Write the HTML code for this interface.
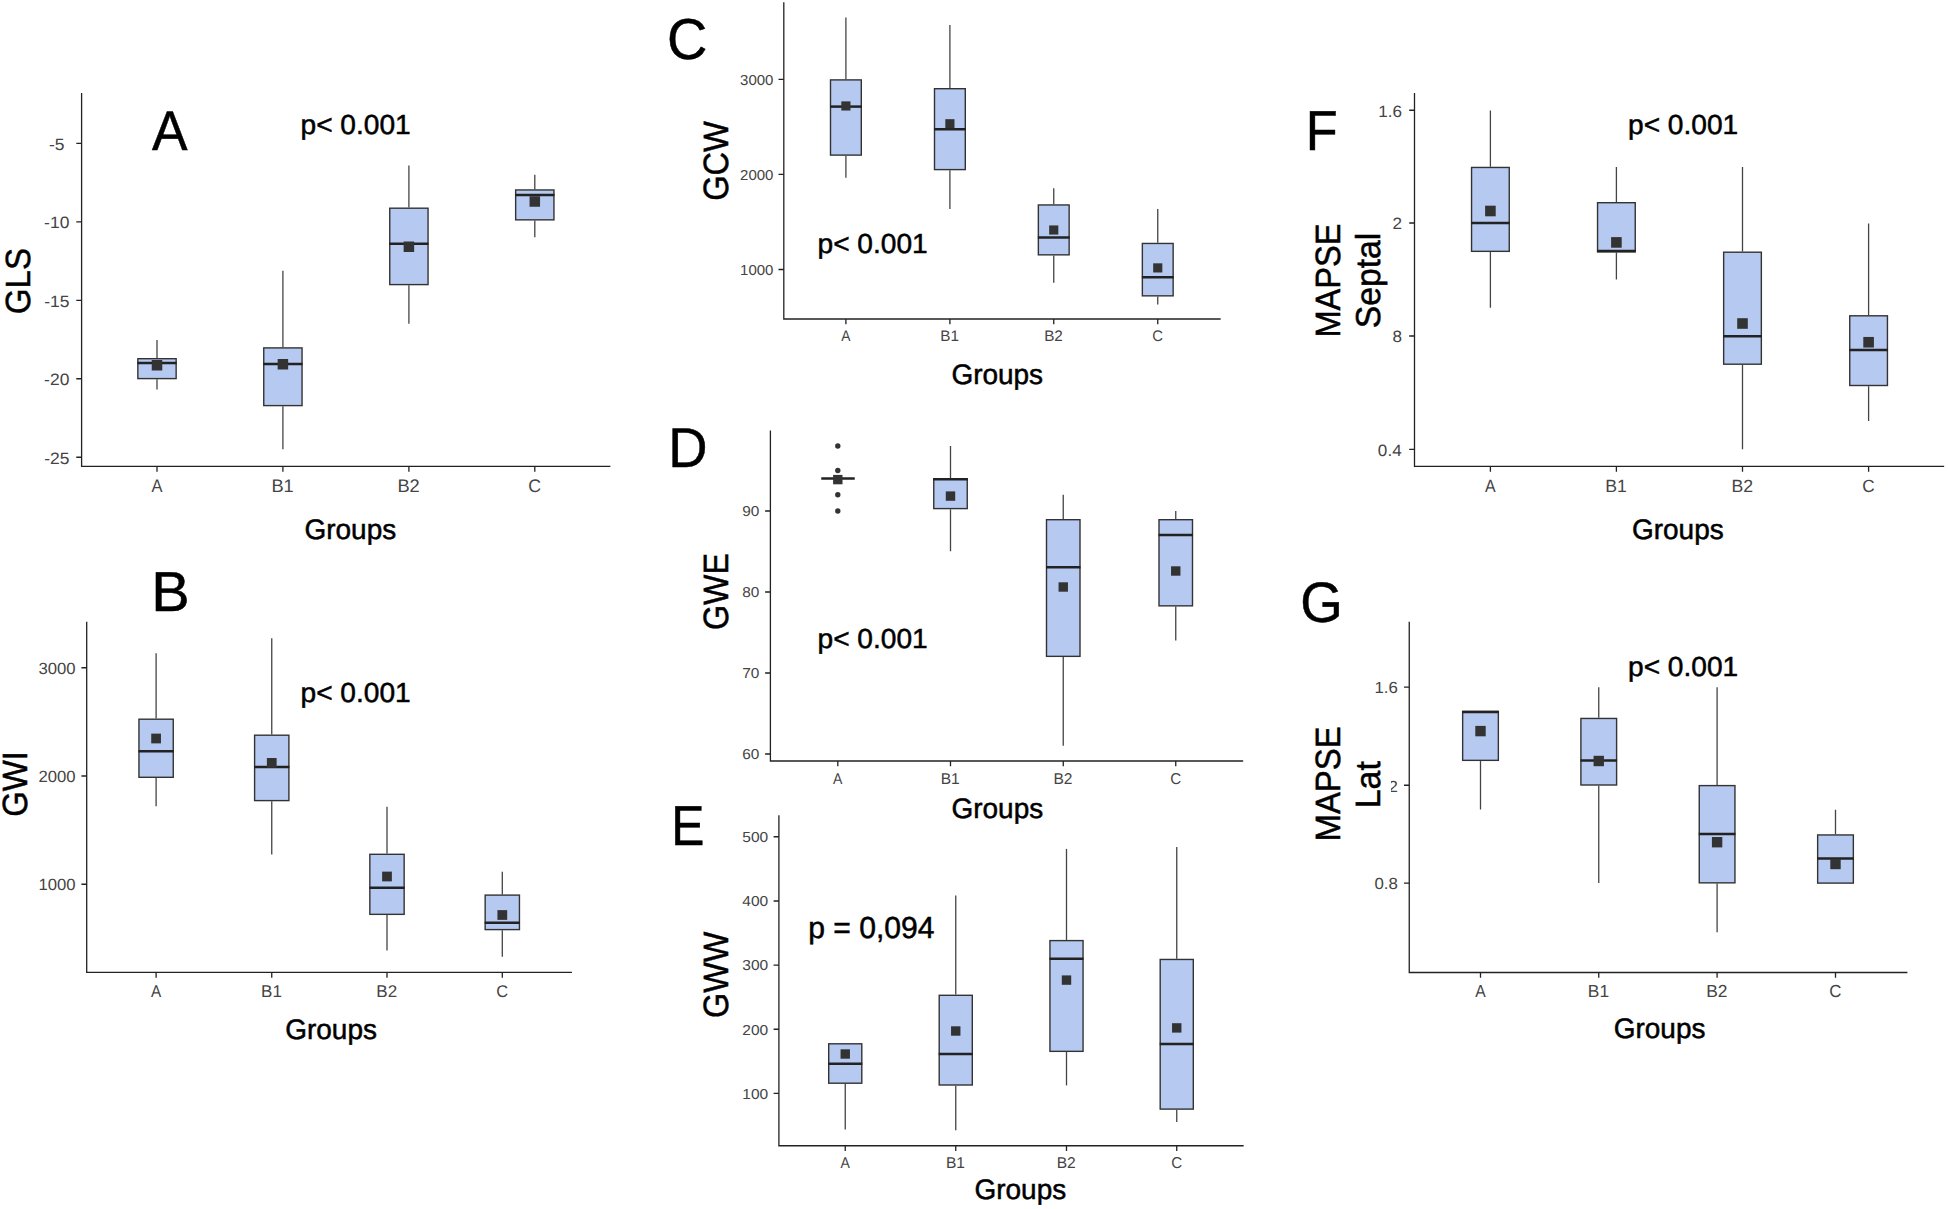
<!DOCTYPE html>
<html lang="en"><head><meta charset="utf-8"><title>Box plots of myocardial work indices by group</title>
<style>
html,body{margin:0;padding:0;background:#fff}
body{width:1948px;height:1209px;overflow:hidden}
svg{display:block}
text{font-family:"Liberation Sans",Arial,Helvetica,sans-serif;text-rendering:geometricPrecision}
</style></head><body>
<svg width="1948" height="1209" viewBox="0 0 1948 1209">
<rect width="1948" height="1209" fill="#fff"/>
<g id="panelA">
<path d="M81.6 93.75V466.45H609.75" fill="none" stroke="#222222" stroke-width="1.3" stroke-linecap="square"/>
<path d="M76.3 143.3H81.6M76.3 221.8H81.6M76.3 300.3H81.6M76.3 378.75H81.6M76.3 457.25H81.6M157 466.45V471.75M282.9 466.45V471.75M408.9 466.45V471.75M534.8 466.45V471.75" fill="none" stroke="#222222" stroke-width="1.3"/>
<text transform="translate(49.01,149.51) scale(1.0650,1)" font-size="16.4" fill="#444444" stroke="#444444" stroke-width="0">-5</text>
<text transform="translate(44.12,228.09) scale(1.0650,1)" font-size="16.4" fill="#444444" stroke="#444444" stroke-width="0">-10</text>
<text transform="translate(44.14,306.51) scale(1.0650,1)" font-size="16.4" fill="#444444" stroke="#444444" stroke-width="0">-15</text>
<text transform="translate(44.12,385.04) scale(1.0650,1)" font-size="16.4" fill="#444444" stroke="#444444" stroke-width="0">-20</text>
<text transform="translate(44.14,463.54) scale(1.0650,1)" font-size="16.4" fill="#444444" stroke="#444444" stroke-width="0">-25</text>
<text transform="translate(151.5,492.4) scale(0.9000,1)" font-size="18.3" fill="#444444" stroke="#444444" stroke-width="0">A</text>
<text transform="translate(271.39,492.4)" font-size="18.3" fill="#444444" stroke="#444444" stroke-width="0">B1</text>
<text transform="translate(397.42,492.4)" font-size="18.3" fill="#444444" stroke="#444444" stroke-width="0">B2</text>
<text transform="translate(528.3,492.4) scale(0.9700,1)" font-size="18.3" fill="#444444" stroke="#444444" stroke-width="0">C</text>
<line x1="157" y1="340" x2="157" y2="358" stroke="#444444" stroke-width="1.3"/>
<line x1="157" y1="379.3" x2="157" y2="389.5" stroke="#444444" stroke-width="1.3"/>
<rect x="137.85" y="358.7" width="38.3" height="19.9" fill="#b6c9f0" stroke="#333333" stroke-width="1.4"/>
<line x1="137.35" y1="363" x2="176.65" y2="363" stroke="#222222" stroke-width="2.5"/>
<rect x="151.75" y="360" width="10.5" height="10.5" fill="#333333"/>
<line x1="282.9" y1="270.75" x2="282.9" y2="347.2" stroke="#444444" stroke-width="1.3"/>
<line x1="282.9" y1="406.3" x2="282.9" y2="449.25" stroke="#444444" stroke-width="1.3"/>
<rect x="263.75" y="347.9" width="38.3" height="57.7" fill="#b6c9f0" stroke="#333333" stroke-width="1.4"/>
<line x1="263.25" y1="364" x2="302.55" y2="364" stroke="#222222" stroke-width="2.5"/>
<rect x="277.65" y="359" width="10.5" height="10.5" fill="#333333"/>
<line x1="408.9" y1="165.5" x2="408.9" y2="207.5" stroke="#444444" stroke-width="1.3"/>
<line x1="408.9" y1="285.3" x2="408.9" y2="323.75" stroke="#444444" stroke-width="1.3"/>
<rect x="389.75" y="208.2" width="38.3" height="76.4" fill="#b6c9f0" stroke="#333333" stroke-width="1.4"/>
<line x1="389.25" y1="243.75" x2="428.55" y2="243.75" stroke="#222222" stroke-width="2.5"/>
<rect x="403.65" y="241.5" width="10.5" height="10.5" fill="#333333"/>
<line x1="534.8" y1="174.75" x2="534.8" y2="189.25" stroke="#444444" stroke-width="1.3"/>
<line x1="534.8" y1="220.55" x2="534.8" y2="237.25" stroke="#444444" stroke-width="1.3"/>
<rect x="515.65" y="189.95" width="38.3" height="29.9" fill="#b6c9f0" stroke="#333333" stroke-width="1.4"/>
<line x1="515.15" y1="195" x2="554.45" y2="195" stroke="#222222" stroke-width="2.5"/>
<rect x="529.55" y="196.25" width="10.5" height="10.5" fill="#333333"/>
<text transform="translate(152.02,150.15) scale(0.9515,1)" font-size="56" fill="#000" stroke="#000" stroke-width="0.5">A</text>
<text transform="translate(300.52,133.5) scale(1.0220,1)" font-size="27.5" fill="#000" stroke="#000" stroke-width="0.5">p&lt; 0.001</text>
<text transform="translate(304.5,539) scale(0.9920,1)" font-size="28.2" fill="#000" stroke="#000" stroke-width="0.5">Groups</text>
<text transform="translate(30.15,314.26) rotate(-90) scale(0.9506,1)" font-size="34.96" fill="#000" stroke="#000" stroke-width="0.5">GLS</text>
</g>
<g id="panelB">
<path d="M86.7 622.5V972.4H571.25" fill="none" stroke="#222222" stroke-width="1.3" stroke-linecap="square"/>
<path d="M81.4 667.75H86.7M81.4 776H86.7M81.4 884.25H86.7M156.1 972.4V977.7M271.75 972.4V977.7M387 972.4V977.7M502.3 972.4V977.7" fill="none" stroke="#222222" stroke-width="1.3"/>
<text transform="translate(38.54,673.82) scale(1.0300,1)" font-size="16.2" fill="#444444" stroke="#444444" stroke-width="0">3000</text>
<text transform="translate(38.54,782.07) scale(1.0300,1)" font-size="16.2" fill="#444444" stroke="#444444" stroke-width="0">2000</text>
<text transform="translate(38.54,890.32) scale(1.0300,1)" font-size="16.2" fill="#444444" stroke="#444444" stroke-width="0">1000</text>
<text transform="translate(150.99,996.9) scale(0.9000,1)" font-size="17" fill="#444444" stroke="#444444" stroke-width="0">A</text>
<text transform="translate(261.06,996.9)" font-size="17" fill="#444444" stroke="#444444" stroke-width="0">B1</text>
<text transform="translate(376.33,996.9)" font-size="17" fill="#444444" stroke="#444444" stroke-width="0">B2</text>
<text transform="translate(496.26,996.9) scale(0.9700,1)" font-size="17" fill="#444444" stroke="#444444" stroke-width="0">C</text>
<line x1="156.1" y1="653.25" x2="156.1" y2="718.5" stroke="#444444" stroke-width="1.3"/>
<line x1="156.1" y1="778" x2="156.1" y2="806.25" stroke="#444444" stroke-width="1.3"/>
<rect x="138.95" y="719.2" width="34.3" height="58.1" fill="#b6c9f0" stroke="#333333" stroke-width="1.4"/>
<line x1="138.45" y1="751.2" x2="173.75" y2="751.2" stroke="#222222" stroke-width="2.5"/>
<rect x="151.22" y="733.62" width="9.75" height="9.75" fill="#333333"/>
<line x1="271.75" y1="638.25" x2="271.75" y2="734.5" stroke="#444444" stroke-width="1.3"/>
<line x1="271.75" y1="801.3" x2="271.75" y2="854.4" stroke="#444444" stroke-width="1.3"/>
<rect x="254.6" y="735.2" width="34.3" height="65.4" fill="#b6c9f0" stroke="#333333" stroke-width="1.4"/>
<line x1="254.1" y1="767" x2="289.4" y2="767" stroke="#222222" stroke-width="2.5"/>
<rect x="266.88" y="758.02" width="9.75" height="9.75" fill="#333333"/>
<line x1="387" y1="806.75" x2="387" y2="853.6" stroke="#444444" stroke-width="1.3"/>
<line x1="387" y1="915.05" x2="387" y2="950.4" stroke="#444444" stroke-width="1.3"/>
<rect x="369.85" y="854.3" width="34.3" height="60.05" fill="#b6c9f0" stroke="#333333" stroke-width="1.4"/>
<line x1="369.35" y1="887.75" x2="404.65" y2="887.75" stroke="#222222" stroke-width="2.5"/>
<rect x="382.12" y="871.62" width="9.75" height="9.75" fill="#333333"/>
<line x1="502.3" y1="871.75" x2="502.3" y2="894.4" stroke="#444444" stroke-width="1.3"/>
<line x1="502.3" y1="930.3" x2="502.3" y2="956.75" stroke="#444444" stroke-width="1.3"/>
<rect x="485.15" y="895.1" width="34.3" height="34.5" fill="#b6c9f0" stroke="#333333" stroke-width="1.4"/>
<line x1="484.65" y1="922.75" x2="519.95" y2="922.75" stroke="#222222" stroke-width="2.5"/>
<rect x="497.43" y="910.12" width="9.75" height="9.75" fill="#333333"/>
<text transform="translate(151.29,611.25) scale(1.0242,1)" font-size="56.29" fill="#000" stroke="#000" stroke-width="0.5">B</text>
<text transform="translate(300.52,701.5) scale(1.0220,1)" font-size="27.5" fill="#000" stroke="#000" stroke-width="0.5">p&lt; 0.001</text>
<text transform="translate(285.25,1038.75) scale(0.9920,1)" font-size="28.2" fill="#000" stroke="#000" stroke-width="0.5">Groups</text>
<text transform="translate(26.95,816.84) rotate(-90) scale(0.9375,1)" font-size="35.06" fill="#000" stroke="#000" stroke-width="0.5">GWI</text>
</g>
<g id="panelC">
<path d="M783.8 3V319H1220" fill="none" stroke="#222222" stroke-width="1.3" stroke-linecap="square"/>
<path d="M778.5 79.3H783.8M778.5 174.4H783.8M778.5 269.5H783.8M845.9 319V324.3M949.9 319V324.3M1053.75 319V324.3M1157.75 319V324.3" fill="none" stroke="#222222" stroke-width="1.3"/>
<text transform="translate(740.04,84.83) scale(1.0340,1)" font-size="14.5" fill="#444444" stroke="#444444" stroke-width="0">3000</text>
<text transform="translate(740.04,179.93) scale(1.0340,1)" font-size="14.5" fill="#444444" stroke="#444444" stroke-width="0">2000</text>
<text transform="translate(740.04,275.03) scale(1.0340,1)" font-size="14.5" fill="#444444" stroke="#444444" stroke-width="0">1000</text>
<text transform="translate(841.3,340.9) scale(0.9000,1)" font-size="15.3" fill="#444444" stroke="#444444" stroke-width="0">A</text>
<text transform="translate(940.28,340.9)" font-size="15.3" fill="#444444" stroke="#444444" stroke-width="0">B1</text>
<text transform="translate(1044.15,340.9)" font-size="15.3" fill="#444444" stroke="#444444" stroke-width="0">B2</text>
<text transform="translate(1152.31,340.9) scale(0.9700,1)" font-size="15.3" fill="#444444" stroke="#444444" stroke-width="0">C</text>
<line x1="845.9" y1="17.5" x2="845.9" y2="79.2" stroke="#444444" stroke-width="1.3"/>
<line x1="845.9" y1="155.8" x2="845.9" y2="177.75" stroke="#444444" stroke-width="1.3"/>
<rect x="830.5" y="79.9" width="30.8" height="75.2" fill="#b6c9f0" stroke="#333333" stroke-width="1.4"/>
<line x1="830" y1="106.6" x2="861.8" y2="106.6" stroke="#222222" stroke-width="2.5"/>
<rect x="841.32" y="101.38" width="9.15" height="9.15" fill="#333333"/>
<line x1="949.9" y1="25" x2="949.9" y2="88" stroke="#444444" stroke-width="1.3"/>
<line x1="949.9" y1="170.3" x2="949.9" y2="209" stroke="#444444" stroke-width="1.3"/>
<rect x="934.5" y="88.7" width="30.8" height="80.9" fill="#b6c9f0" stroke="#333333" stroke-width="1.4"/>
<line x1="934" y1="129.25" x2="965.8" y2="129.25" stroke="#222222" stroke-width="2.5"/>
<rect x="945.32" y="119.17" width="9.15" height="9.15" fill="#333333"/>
<line x1="1053.75" y1="188.25" x2="1053.75" y2="204.25" stroke="#444444" stroke-width="1.3"/>
<line x1="1053.75" y1="255.55" x2="1053.75" y2="282.75" stroke="#444444" stroke-width="1.3"/>
<rect x="1038.35" y="204.95" width="30.8" height="49.9" fill="#b6c9f0" stroke="#333333" stroke-width="1.4"/>
<line x1="1037.85" y1="237.5" x2="1069.65" y2="237.5" stroke="#222222" stroke-width="2.5"/>
<rect x="1049.17" y="225.43" width="9.15" height="9.15" fill="#333333"/>
<line x1="1157.75" y1="209" x2="1157.75" y2="242.75" stroke="#444444" stroke-width="1.3"/>
<line x1="1157.75" y1="296.55" x2="1157.75" y2="304.5" stroke="#444444" stroke-width="1.3"/>
<rect x="1142.35" y="243.45" width="30.8" height="52.4" fill="#b6c9f0" stroke="#333333" stroke-width="1.4"/>
<line x1="1141.85" y1="277.25" x2="1173.65" y2="277.25" stroke="#222222" stroke-width="2.5"/>
<rect x="1153.17" y="263.32" width="9.15" height="9.15" fill="#333333"/>
<text transform="translate(667.05,59.17) scale(0.9682,1)" font-size="57.81" fill="#000" stroke="#000" stroke-width="0.5">C</text>
<text transform="translate(817.52,252.75) scale(1.0220,1)" font-size="27.5" fill="#000" stroke="#000" stroke-width="0.5">p&lt; 0.001</text>
<text transform="translate(951.4,383.85) scale(0.9920,1)" font-size="28.2" fill="#000" stroke="#000" stroke-width="0.5">Groups</text>
<text transform="translate(728.4,200.83) rotate(-90) scale(0.9266,1)" font-size="35.17" fill="#000" stroke="#000" stroke-width="0.5">GCW</text>
</g>
<g id="panelD">
<path d="M770.4 431.25V761H1242.5" fill="none" stroke="#222222" stroke-width="1.3" stroke-linecap="square"/>
<path d="M765.1 511H770.4M765.1 592H770.4M765.1 673H770.4M765.1 754H770.4M837.8 761V766.3M950.5 761V766.3M1063.25 761V766.3M1175.75 761V766.3" fill="none" stroke="#222222" stroke-width="1.3"/>
<text transform="translate(742.27,516.1) scale(1.0700,1)" font-size="14.4" fill="#444444" stroke="#444444" stroke-width="0">90</text>
<text transform="translate(742.27,597.1) scale(1.0700,1)" font-size="14.4" fill="#444444" stroke="#444444" stroke-width="0">80</text>
<text transform="translate(742.27,678.1) scale(1.0700,1)" font-size="14.4" fill="#444444" stroke="#444444" stroke-width="0">70</text>
<text transform="translate(742.27,759.1) scale(1.0700,1)" font-size="14.4" fill="#444444" stroke="#444444" stroke-width="0">60</text>
<text transform="translate(833.11,783.76) scale(0.9000,1)" font-size="15.6" fill="#444444" stroke="#444444" stroke-width="0">A</text>
<text transform="translate(940.69,783.76)" font-size="15.6" fill="#444444" stroke="#444444" stroke-width="0">B1</text>
<text transform="translate(1053.46,783.76)" font-size="15.6" fill="#444444" stroke="#444444" stroke-width="0">B2</text>
<text transform="translate(1170.21,783.76) scale(0.9700,1)" font-size="15.6" fill="#444444" stroke="#444444" stroke-width="0">C</text>
<circle cx="837.8" cy="446" r="2.7" fill="#333"/>
<circle cx="837.8" cy="470.5" r="2.7" fill="#333"/>
<circle cx="837.8" cy="494.75" r="2.7" fill="#333"/>
<circle cx="837.8" cy="511" r="2.7" fill="#333"/>
<line x1="821.25" y1="478.5" x2="854.75" y2="478.5" stroke="#222222" stroke-width="2.5"/>
<rect x="833.1" y="474.9" width="9.4" height="9.4" fill="#333333"/>
<line x1="950.5" y1="446" x2="950.5" y2="478" stroke="#444444" stroke-width="1.3"/>
<line x1="950.5" y1="509.3" x2="950.5" y2="551.25" stroke="#444444" stroke-width="1.3"/>
<rect x="933.75" y="478.7" width="33.5" height="29.9" fill="#b6c9f0" stroke="#333333" stroke-width="1.4"/>
<line x1="933.25" y1="479.3" x2="967.75" y2="479.3" stroke="#222222" stroke-width="2.5"/>
<rect x="945.8" y="491.4" width="9.4" height="9.4" fill="#333333"/>
<line x1="1063.25" y1="494.75" x2="1063.25" y2="519" stroke="#444444" stroke-width="1.3"/>
<line x1="1063.25" y1="657.05" x2="1063.25" y2="745.75" stroke="#444444" stroke-width="1.3"/>
<rect x="1046.5" y="519.7" width="33.5" height="136.65" fill="#b6c9f0" stroke="#333333" stroke-width="1.4"/>
<line x1="1046" y1="567.25" x2="1080.5" y2="567.25" stroke="#222222" stroke-width="2.5"/>
<rect x="1058.55" y="582.3" width="9.4" height="9.4" fill="#333333"/>
<line x1="1175.75" y1="511" x2="1175.75" y2="519" stroke="#444444" stroke-width="1.3"/>
<line x1="1175.75" y1="606.55" x2="1175.75" y2="640.4" stroke="#444444" stroke-width="1.3"/>
<rect x="1159" y="519.7" width="33.5" height="86.15" fill="#b6c9f0" stroke="#333333" stroke-width="1.4"/>
<line x1="1158.5" y1="535" x2="1193" y2="535" stroke="#222222" stroke-width="2.5"/>
<rect x="1171.05" y="566.3" width="9.4" height="9.4" fill="#333333"/>
<text transform="translate(668.17,467.05) scale(0.9679,1)" font-size="56.15" fill="#000" stroke="#000" stroke-width="0.5">D</text>
<text transform="translate(817.52,647.75) scale(1.0220,1)" font-size="27.5" fill="#000" stroke="#000" stroke-width="0.5">p&lt; 0.001</text>
<text transform="translate(951.5,817.5) scale(0.9920,1)" font-size="28.2" fill="#000" stroke="#000" stroke-width="0.5">Groups</text>
<text transform="translate(728.4,630.01) rotate(-90) scale(0.9169,1)" font-size="35.17" fill="#000" stroke="#000" stroke-width="0.5">GWE</text>
</g>
<g id="panelE">
<path d="M778.9 815.9V1145.75H1243" fill="none" stroke="#222222" stroke-width="1.3" stroke-linecap="square"/>
<path d="M773.6 836.75H778.9M773.6 901H778.9M773.6 965.1H778.9M773.6 1029.25H778.9M773.6 1093.4H778.9M845.25 1145.75V1151.05M955.75 1145.75V1151.05M1066.5 1145.75V1151.05M1176.75 1145.75V1151.05" fill="none" stroke="#222222" stroke-width="1.3"/>
<text transform="translate(742.31,842.13) scale(1.0700,1)" font-size="14.5" fill="#444444" stroke="#444444" stroke-width="0">500</text>
<text transform="translate(742.31,906.38) scale(1.0700,1)" font-size="14.5" fill="#444444" stroke="#444444" stroke-width="0">400</text>
<text transform="translate(742.31,970.48) scale(1.0700,1)" font-size="14.5" fill="#444444" stroke="#444444" stroke-width="0">300</text>
<text transform="translate(742.31,1034.63) scale(1.0700,1)" font-size="14.5" fill="#444444" stroke="#444444" stroke-width="0">200</text>
<text transform="translate(742.31,1098.78) scale(1.0700,1)" font-size="14.5" fill="#444444" stroke="#444444" stroke-width="0">100</text>
<text transform="translate(840.56,1168.3) scale(0.9000,1)" font-size="15.6" fill="#444444" stroke="#444444" stroke-width="0">A</text>
<text transform="translate(945.94,1168.3)" font-size="15.6" fill="#444444" stroke="#444444" stroke-width="0">B1</text>
<text transform="translate(1056.71,1168.3)" font-size="15.6" fill="#444444" stroke="#444444" stroke-width="0">B2</text>
<text transform="translate(1171.21,1168.3) scale(0.9700,1)" font-size="15.6" fill="#444444" stroke="#444444" stroke-width="0">C</text>
<line x1="845.25" y1="1083.9" x2="845.25" y2="1129.5" stroke="#444444" stroke-width="1.3"/>
<rect x="828.7" y="1043.8" width="33.1" height="39.4" fill="#b6c9f0" stroke="#333333" stroke-width="1.4"/>
<line x1="828.2" y1="1063.75" x2="862.3" y2="1063.75" stroke="#222222" stroke-width="2.5"/>
<rect x="840.55" y="1049.3" width="9.4" height="9.4" fill="#333333"/>
<line x1="955.75" y1="895.5" x2="955.75" y2="994.6" stroke="#444444" stroke-width="1.3"/>
<line x1="955.75" y1="1085.7" x2="955.75" y2="1130.25" stroke="#444444" stroke-width="1.3"/>
<rect x="939.2" y="995.3" width="33.1" height="89.7" fill="#b6c9f0" stroke="#333333" stroke-width="1.4"/>
<line x1="938.7" y1="1054" x2="972.8" y2="1054" stroke="#222222" stroke-width="2.5"/>
<rect x="951.05" y="1026.3" width="9.4" height="9.4" fill="#333333"/>
<line x1="1066.5" y1="848.9" x2="1066.5" y2="939.9" stroke="#444444" stroke-width="1.3"/>
<line x1="1066.5" y1="1052.05" x2="1066.5" y2="1085.4" stroke="#444444" stroke-width="1.3"/>
<rect x="1049.95" y="940.6" width="33.1" height="110.75" fill="#b6c9f0" stroke="#333333" stroke-width="1.4"/>
<line x1="1049.45" y1="958.75" x2="1083.55" y2="958.75" stroke="#222222" stroke-width="2.5"/>
<rect x="1061.8" y="975.4" width="9.4" height="9.4" fill="#333333"/>
<line x1="1176.75" y1="847" x2="1176.75" y2="958.75" stroke="#444444" stroke-width="1.3"/>
<line x1="1176.75" y1="1109.8" x2="1176.75" y2="1122" stroke="#444444" stroke-width="1.3"/>
<rect x="1160.2" y="959.45" width="33.1" height="149.65" fill="#b6c9f0" stroke="#333333" stroke-width="1.4"/>
<line x1="1159.7" y1="1044" x2="1193.8" y2="1044" stroke="#222222" stroke-width="2.5"/>
<rect x="1172.05" y="1023.2" width="9.4" height="9.4" fill="#333333"/>
<text transform="translate(671.3,845.3) scale(0.8791,1)" font-size="56.51" fill="#000" stroke="#000" stroke-width="0.5">E</text>
<text transform="translate(808.19,938.26) scale(0.9900,1)" font-size="30.4" fill="#000" stroke="#000" stroke-width="0.5">p = 0,094</text>
<text transform="translate(974.5,1199) scale(0.9920,1)" font-size="28.2" fill="#000" stroke="#000" stroke-width="0.5">Groups</text>
<text transform="translate(728.2,1018.02) rotate(-90) scale(0.9206,1)" font-size="35.17" fill="#000" stroke="#000" stroke-width="0.5">GWW</text>
</g>
<g id="panelF">
<path d="M1414.5 93.75V466.45H1943.5" fill="none" stroke="#222222" stroke-width="1.3" stroke-linecap="square"/>
<path d="M1409.2 110.25H1414.5M1409.2 223H1414.5M1409.2 336H1414.5M1409.2 449.4H1414.5M1490.4 466.45V471.75M1616.4 466.45V471.75M1742.5 466.45V471.75M1868.6 466.45V471.75" fill="none" stroke="#222222" stroke-width="1.3"/>
<text transform="translate(1378.13,116.64) scale(1.0440,1)" font-size="16.4" fill="#444444" stroke="#444444" stroke-width="0">1.6</text>
<text transform="translate(1392.55,229.47) scale(1.0440,1)" font-size="16.4" fill="#444444" stroke="#444444" stroke-width="0">2</text>
<text transform="translate(1392.43,342.39) scale(1.0440,1)" font-size="16.4" fill="#444444" stroke="#444444" stroke-width="0">8</text>
<text transform="translate(1377.87,455.79) scale(1.0440,1)" font-size="16.4" fill="#444444" stroke="#444444" stroke-width="0">0.4</text>
<text transform="translate(1485.08,492.4) scale(0.9000,1)" font-size="17.7" fill="#444444" stroke="#444444" stroke-width="0">A</text>
<text transform="translate(1605.27,492.4)" font-size="17.7" fill="#444444" stroke="#444444" stroke-width="0">B1</text>
<text transform="translate(1731.39,492.4)" font-size="17.7" fill="#444444" stroke="#444444" stroke-width="0">B2</text>
<text transform="translate(1862.31,492.4) scale(0.9700,1)" font-size="17.7" fill="#444444" stroke="#444444" stroke-width="0">C</text>
<line x1="1490.4" y1="110.5" x2="1490.4" y2="166.75" stroke="#444444" stroke-width="1.3"/>
<line x1="1490.4" y1="252.05" x2="1490.4" y2="307.75" stroke="#444444" stroke-width="1.3"/>
<rect x="1471.55" y="167.45" width="37.7" height="83.9" fill="#b6c9f0" stroke="#333333" stroke-width="1.4"/>
<line x1="1471.05" y1="223" x2="1509.75" y2="223" stroke="#222222" stroke-width="2.5"/>
<rect x="1485.1" y="205.7" width="10.6" height="10.6" fill="#333333"/>
<line x1="1616.4" y1="167" x2="1616.4" y2="202" stroke="#444444" stroke-width="1.3"/>
<line x1="1616.4" y1="252.55" x2="1616.4" y2="279.5" stroke="#444444" stroke-width="1.3"/>
<rect x="1597.55" y="202.7" width="37.7" height="49.15" fill="#b6c9f0" stroke="#333333" stroke-width="1.4"/>
<line x1="1597.05" y1="251.1" x2="1635.75" y2="251.1" stroke="#222222" stroke-width="2.5"/>
<rect x="1611.1" y="237.1" width="10.6" height="10.6" fill="#333333"/>
<line x1="1742.5" y1="167" x2="1742.5" y2="251.5" stroke="#444444" stroke-width="1.3"/>
<line x1="1742.5" y1="364.9" x2="1742.5" y2="449.25" stroke="#444444" stroke-width="1.3"/>
<rect x="1723.65" y="252.2" width="37.7" height="112" fill="#b6c9f0" stroke="#333333" stroke-width="1.4"/>
<line x1="1723.15" y1="336.25" x2="1761.85" y2="336.25" stroke="#222222" stroke-width="2.5"/>
<rect x="1737.2" y="318.2" width="10.6" height="10.6" fill="#333333"/>
<line x1="1868.6" y1="223.5" x2="1868.6" y2="315.1" stroke="#444444" stroke-width="1.3"/>
<line x1="1868.6" y1="386.2" x2="1868.6" y2="421" stroke="#444444" stroke-width="1.3"/>
<rect x="1849.75" y="315.8" width="37.7" height="69.7" fill="#b6c9f0" stroke="#333333" stroke-width="1.4"/>
<line x1="1849.25" y1="350.1" x2="1887.95" y2="350.1" stroke="#222222" stroke-width="2.5"/>
<rect x="1863.3" y="336.95" width="10.6" height="10.6" fill="#333333"/>
<text transform="translate(1305.7,149.6) scale(0.9283,1)" font-size="56.22" fill="#000" stroke="#000" stroke-width="0.5">F</text>
<text transform="translate(1628.02,133.5) scale(1.0220,1)" font-size="27.5" fill="#000" stroke="#000" stroke-width="0.5">p&lt; 0.001</text>
<text transform="translate(1632,539) scale(0.9920,1)" font-size="28.2" fill="#000" stroke="#000" stroke-width="0.5">Groups</text>
<text transform="translate(1339.6,337.59) rotate(-90) scale(0.9276,1)" font-size="35.17" fill="#000" stroke="#000" stroke-width="0.5">MAPSE</text>
<text transform="translate(1380.1,328.32) rotate(-90) scale(0.9764,1)" font-size="34.57" fill="#000" stroke="#000" stroke-width="0.5">Septal</text>
</g>
<g id="panelG">
<path d="M1409.25 622.5V972.5H1906.75" fill="none" stroke="#222222" stroke-width="1.3" stroke-linecap="square"/>
<path d="M1403.95 687.2H1409.25M1403.95 785.25H1409.25M1403.95 883.2H1409.25M1480.5 972.5V977.8M1598.75 972.5V977.8M1717.1 972.5V977.8M1835.5 972.5V977.8" fill="none" stroke="#222222" stroke-width="1.3"/>
<clipPath id="cg"><rect x="1391" y="770" width="12" height="30"/></clipPath>
<text transform="translate(1374.45,693.43) scale(1.0440,1)" font-size="16.1" fill="#444444" stroke="#444444" stroke-width="0">1.6</text>
<g clip-path="url(#cg)"><text transform="translate(1388.61,791.56) scale(1.0440,1)" font-size="16.1" fill="#444444" stroke="#444444" stroke-width="0">2</text></g>
<text transform="translate(1374.45,889.43) scale(1.0440,1)" font-size="16.1" fill="#444444" stroke="#444444" stroke-width="0">0.8</text>
<text transform="translate(1475.27,997.15) scale(0.9000,1)" font-size="17.4" fill="#444444" stroke="#444444" stroke-width="0">A</text>
<text transform="translate(1587.81,997.15)" font-size="17.4" fill="#444444" stroke="#444444" stroke-width="0">B1</text>
<text transform="translate(1706.18,997.15)" font-size="17.4" fill="#444444" stroke="#444444" stroke-width="0">B2</text>
<text transform="translate(1829.32,997.15) scale(0.9700,1)" font-size="17.4" fill="#444444" stroke="#444444" stroke-width="0">C</text>
<line x1="1480.5" y1="761.05" x2="1480.5" y2="809.5" stroke="#444444" stroke-width="1.3"/>
<rect x="1462.65" y="711.45" width="35.7" height="48.9" fill="#b6c9f0" stroke="#333333" stroke-width="1.4"/>
<line x1="1462.15" y1="712" x2="1498.85" y2="712" stroke="#222222" stroke-width="2.5"/>
<rect x="1475.3" y="725.9" width="10.4" height="10.4" fill="#333333"/>
<line x1="1598.75" y1="687.25" x2="1598.75" y2="717.75" stroke="#444444" stroke-width="1.3"/>
<line x1="1598.75" y1="785.7" x2="1598.75" y2="883" stroke="#444444" stroke-width="1.3"/>
<rect x="1580.9" y="718.45" width="35.7" height="66.55" fill="#b6c9f0" stroke="#333333" stroke-width="1.4"/>
<line x1="1580.4" y1="760.5" x2="1617.1" y2="760.5" stroke="#222222" stroke-width="2.5"/>
<rect x="1593.55" y="755.8" width="10.4" height="10.4" fill="#333333"/>
<line x1="1717.1" y1="687.25" x2="1717.1" y2="784.9" stroke="#444444" stroke-width="1.3"/>
<line x1="1717.1" y1="883.55" x2="1717.1" y2="932.25" stroke="#444444" stroke-width="1.3"/>
<rect x="1699.25" y="785.6" width="35.7" height="97.25" fill="#b6c9f0" stroke="#333333" stroke-width="1.4"/>
<line x1="1698.75" y1="834" x2="1735.45" y2="834" stroke="#222222" stroke-width="2.5"/>
<rect x="1711.9" y="837" width="10.4" height="10.4" fill="#333333"/>
<line x1="1835.5" y1="809.75" x2="1835.5" y2="834.25" stroke="#444444" stroke-width="1.3"/>
<rect x="1817.65" y="834.95" width="35.7" height="48.15" fill="#b6c9f0" stroke="#333333" stroke-width="1.4"/>
<line x1="1817.15" y1="858.5" x2="1853.85" y2="858.5" stroke="#222222" stroke-width="2.5"/>
<rect x="1830.3" y="858.8" width="10.4" height="10.4" fill="#333333"/>
<text transform="translate(1300.31,621.78) scale(0.9581,1)" font-size="57.1" fill="#000" stroke="#000" stroke-width="0.5">G</text>
<text transform="translate(1628.02,675.75) scale(1.0220,1)" font-size="27.5" fill="#000" stroke="#000" stroke-width="0.5">p&lt; 0.001</text>
<text transform="translate(1613.75,1038.25) scale(0.9920,1)" font-size="28.2" fill="#000" stroke="#000" stroke-width="0.5">Groups</text>
<text transform="translate(1339.6,841.51) rotate(-90) scale(0.9352,1)" font-size="35.17" fill="#000" stroke="#000" stroke-width="0.5">MAPSE</text>
<text transform="translate(1380.1,808.3) rotate(-90) scale(0.9644,1)" font-size="35.17" fill="#000" stroke="#000" stroke-width="0.5">Lat</text>
</g>
</svg>
</body></html>
